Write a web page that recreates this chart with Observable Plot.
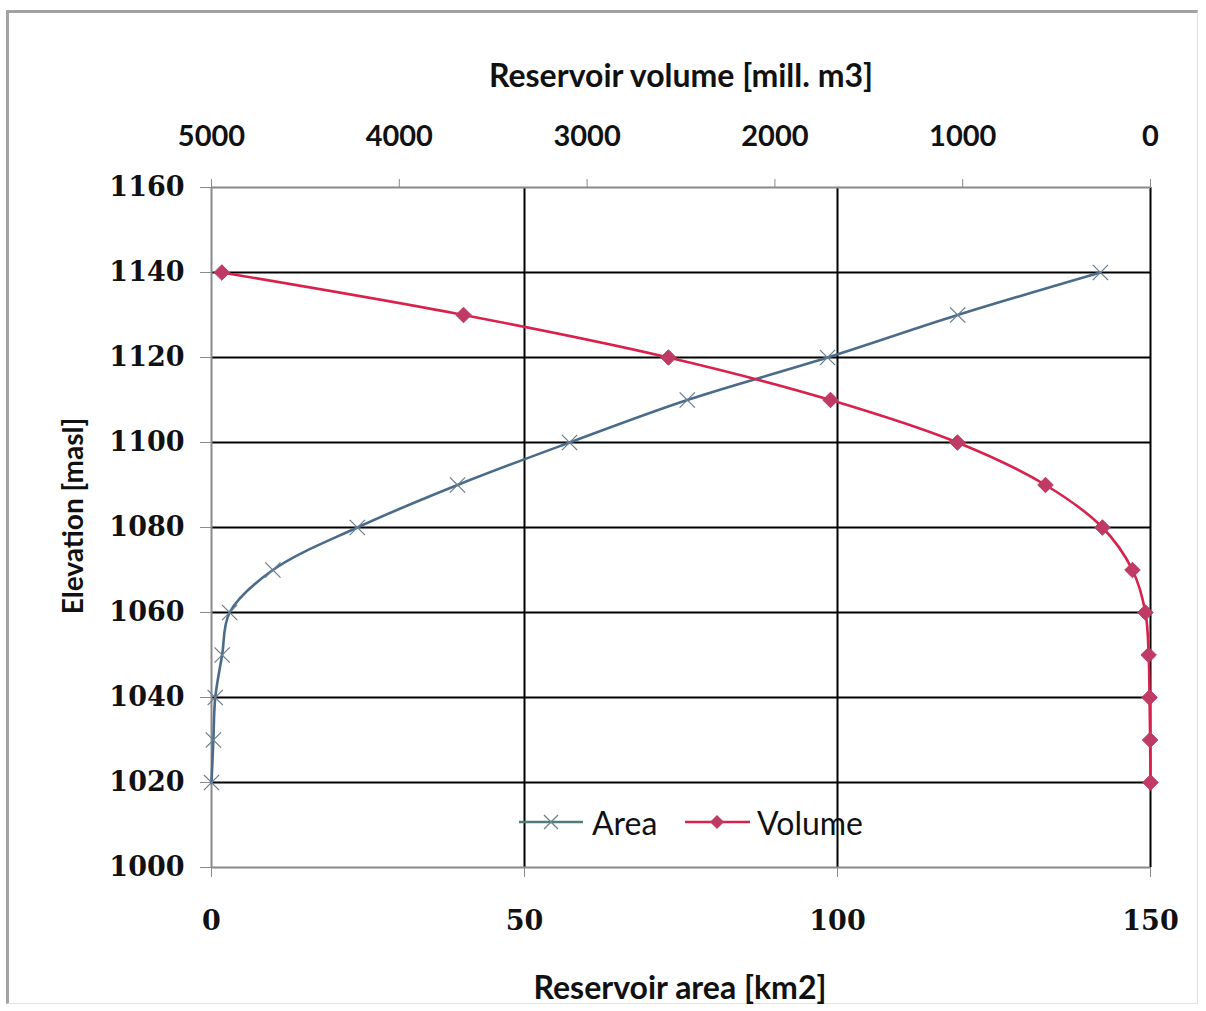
<!DOCTYPE html>
<html>
<head>
<meta charset="utf-8">
<script src="https://cdn.jsdelivr.net/npm/d3@7"></script>
<script src="https://cdn.jsdelivr.net/npm/@observablehq/plot@0.6"></script>
<style>
  html, body { margin: 0; padding: 0; background: #fff; }
  #wrap { position: relative; width: 1206px; height: 1011px; overflow: hidden; background: #fff; }
  #frame { position: absolute; left: 6px; top: 10px; width: 1192px; height: 994px;
           border-top: 3px solid #a2a2a2; border-left: 3px solid #a2a2a2;
           border-right: 1px solid #e2e2e2; border-bottom: 1px solid #e2e2e2; box-sizing: border-box; }
  .layer { position: absolute; left: 0; top: 0; }
  .title { position: absolute; font-family: Lato, "Open Sans", sans-serif; font-weight: bold; font-size: 32px; color: #111; white-space: nowrap; }
  .legend { position: absolute; font-family: Lato, "Open Sans", sans-serif; font-size: 32px; color: #111; white-space: nowrap; }
</style>
</head>
<body>
<div id="wrap">
  <div id="frame"></div>
  <div id="p1" class="layer"></div>
  <div id="p2" class="layer"></div>
  <div class="title" style="left:681px; top:74px; transform: translate(-50%,-50%);">Reservoir volume [mill. m3]</div>
  <div class="title" style="left:680px; top:986px; transform: translate(-50%,-50%);">Reservoir area [km2]</div>
  <div class="title" style="left:72px; top:516px; font-size:28px; transform: translate(-50%,-50%) rotate(-90deg);">Elevation [masl]</div>
  <div id="legend"></div>
</div>
<script>
// ---- data ----
const elevation = [1020, 1030, 1040, 1050, 1060, 1070, 1080, 1090, 1100, 1110, 1120, 1130, 1140];
const area      = [0, 0.3, 0.6, 1.7, 2.9, 9.8, 23.3, 39.3, 57.2, 76.0, 98.4, 119.2, 142.0];   // km2
const volume    = [0, 2, 5, 10, 27, 96, 256, 559, 1028, 1704, 2567, 3658, 4945];           // mill. m3
const elevTicks = [1000, 1020, 1040, 1060, 1080, 1100, 1120, 1140, 1160];
const areaTicks = [0, 50, 100, 150];
const volTicks  = [5000, 4000, 3000, 2000, 1000, 0];
const seriesNames = ["Area", "Volume"];

const areaData = elevation.map((e, i) => ({elev: e, area: area[i]}));
const volData  = elevation.map((e, i) => ({elev: e, volume: volume[i]}));

const W = 1206, H = 1011;
const margins = {marginLeft: 211, marginRight: 56, marginTop: 187, marginBottom: 144};
const areaColor = "#4b6b8a", areaMark = "#6b7f90";
const volColor = "#d8224c", volMark = "#bf3a64";
const serif = "'DejaVu Serif', serif";
const sans = "Lato, 'Open Sans', sans-serif";

const p1 = Plot.plot({
  width: W, height: H, ...margins,
  style: {background: "transparent", overflow: "visible"},
  x: {domain: [0, 150], axis: null},
  y: {domain: [1000, 1160], axis: null},
  marks: [
    Plot.ruleY(elevTicks.filter(d => d > 1000 && d < 1160), {stroke: "#000", strokeWidth: 2}),
    Plot.ruleX(areaTicks.filter(d => d > 0), {stroke: "#000", strokeWidth: 2}),
    Plot.ruleY([1000, 1160], {stroke: "#8a8a8a", strokeWidth: 2}),
    Plot.ruleX([0], {stroke: "#8a8a8a", strokeWidth: 2}),
    Plot.axisY({ticks: elevTicks, tickSize: 11, tickPadding: 16, stroke: "#8a8a8a",
      fontFamily: serif, fontWeight: "bold", fontSize: 27, fill: "#111", tickFormat: d => String(d), label: null}),
    Plot.axisX({anchor: "bottom", ticks: areaTicks, tickSize: 10, tickPadding: 33, stroke: "#8a8a8a",
      fontFamily: serif, fontWeight: "bold", fontSize: 27, fill: "#111", tickFormat: d => String(d), label: null}),
    Plot.line(areaData, {x: "area", y: "elev", stroke: areaColor, strokeWidth: 2.6, curve: "catmull-rom"}),
    Plot.dot(areaData, {x: "area", y: "elev", symbol: "times", r: 7, stroke: areaMark, strokeWidth: 1.3})
  ]
});
document.getElementById("p1").appendChild(p1);

const p2 = Plot.plot({
  width: W, height: H, ...margins,
  style: {background: "transparent", overflow: "visible"},
  x: {domain: [5000, 0], axis: null},
  y: {domain: [1000, 1160], axis: null},
  marks: [
    Plot.axisX({anchor: "top", ticks: volTicks, tickSize: 9, tickPadding: 33, stroke: "#8a8a8a",
      fontFamily: sans, fontWeight: "bold", fontSize: 29, fill: "#111", tickFormat: d => String(d), label: null}),
    Plot.line(volData, {x: "volume", y: "elev", stroke: volColor, strokeWidth: 2.6, curve: "catmull-rom"}),
    Plot.dot(volData, {x: "volume", y: "elev", symbol: "diamond2", r: 7, fill: volMark, stroke: volMark, strokeWidth: 1})
  ]
});
document.getElementById("p2").appendChild(p2);

// ---- legend ----
const leg = document.getElementById("legend");
leg.innerHTML = `
  <svg class="layer" width="${W}" height="${H}" style="pointer-events:none">
    <g transform="translate(519,822)">
      <line x1="0" x2="64" y1="0" y2="0" stroke="#4f7b78" stroke-width="2.6"></line>
      <path d="M-7,-7L7,7M-7,7L7,-7" transform="translate(32,0)" stroke="${areaMark}" stroke-width="1.3"></path>
    </g>
    <g transform="translate(685,822)">
      <line x1="0" x2="65" y1="0" y2="0" stroke="${volColor}" stroke-width="2.6"></line>
      <path d="M0,-7L7,0L0,7L-7,0Z" transform="translate(32,0)" fill="${volMark}"></path>
    </g>
  </svg>
  <div class="legend" style="left:592px; top:822px; transform: translateY(-50%);">${seriesNames[0]}</div>
  <div class="legend" style="left:757px; top:822px; transform: translateY(-50%);">${seriesNames[1]}</div>
`;
</script>
</body>
</html>
